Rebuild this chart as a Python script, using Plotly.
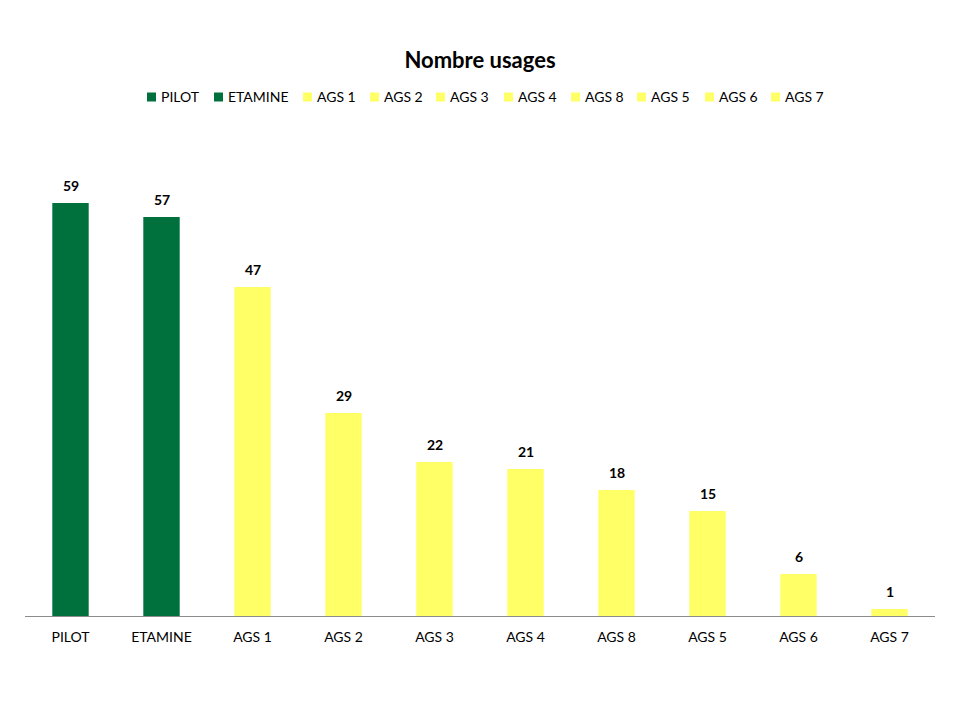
import plotly.graph_objects as go

categories = ["PILOT", "ETAMINE", "AGS 1", "AGS 2", "AGS 3", "AGS 4", "AGS 8", "AGS 5", "AGS 6", "AGS 7"]
values = [59, 57, 47, 29, 22, 21, 18, 15, 6, 1]
colors = ["#00703C", "#00703C"] + ["#FFFF66"] * 8

FONT = "Lato, Open Sans, sans-serif"
W, H = 960, 720
ML, MR, MT, MB = 25, 25, 126, 104
PW, PH = W - ML - MR, H - MT - MB

fig = go.Figure()
for cat, val, col in zip(categories, values, colors):
    fig.add_trace(go.Bar(
        x=[cat], y=[val], name=cat,
        marker=dict(color=col, line=dict(width=0)),
        width=0.4, showlegend=False,
    ))

# data labels above bars
for cat, val in zip(categories, values):
    fig.add_annotation(x=cat, y=val, xref="x", yref="y", text=f"<b>{val}</b>",
                       showarrow=False, yanchor="bottom", yshift=7,
                       font=dict(family=FONT, size=14, color="#000000"))

# legend (compact, Excel-like)
legend_x_px = [147, 214, 303, 370, 436, 504, 571, 637, 705, 771]
leg_y_px = 97
def px2x(px):
    return (px - ML) / PW
def px2y(py):
    return (H - MB - py) / PH
for cat, col, lx in zip(categories, colors, legend_x_px):
    fig.add_shape(type="rect", xref="paper", yref="paper",
                  x0=px2x(lx), x1=px2x(lx + 9), y0=px2y(leg_y_px + 4.5), y1=px2y(leg_y_px - 4.5),
                  fillcolor=col, line=dict(width=0))
    fig.add_annotation(x=px2x(lx + 12), y=px2y(leg_y_px), xref="paper", yref="paper",
                       text=cat, showarrow=False, xanchor="left", yanchor="middle",
                       font=dict(family=FONT, size=14, color="#000000"))

fig.update_layout(
    width=W, height=H,
    barmode="overlay",
    paper_bgcolor="white", plot_bgcolor="white",
    margin=dict(l=ML, r=MR, t=MT, b=MB),
    font=dict(family=FONT, size=14, color="#000000"),
    title=dict(text="<b>Nombre usages</b>", x=0.5, xanchor="center",
               y=1 - 60 / 720, yref="container", yanchor="middle",
               font=dict(family=FONT, size=22, color="#000000")),
    showlegend=False,
    xaxis=dict(categoryorder="array", categoryarray=categories,
               showline=True, linecolor="#8C8C8C", linewidth=1,
               ticks="", showgrid=False, ticklabelstandoff=8,
               tickfont=dict(family=FONT, size=14)),
    yaxis=dict(range=[0, 70], visible=False, showgrid=False, zeroline=False),
)

fig.write_html("out.html")
